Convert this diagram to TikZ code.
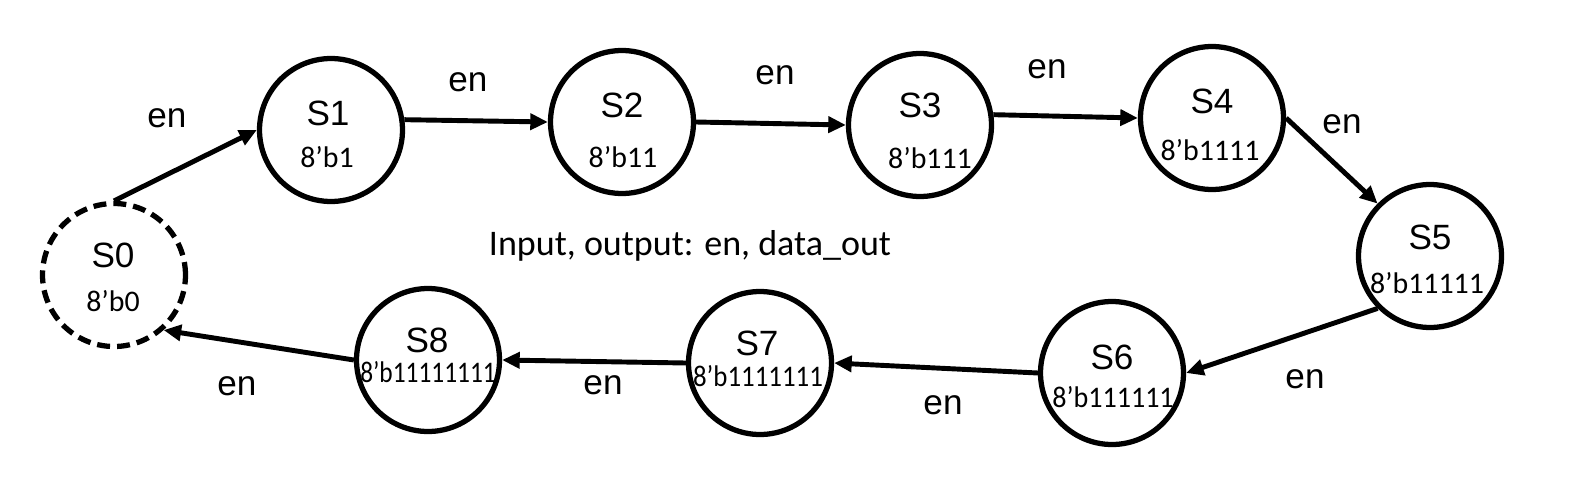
\documentclass[tikz,border=0pt]{standalone}
\usepackage{fontspec}
\setmainfont{Liberation Sans}
\newfontfamily\calfont{Carlito}
\usetikzlibrary{arrows.meta}

\tikzset{
  state/.style={circle, draw, line width=3pt, minimum size=2.86cm, inner sep=0pt},
  start/.style={state, dash pattern=on 0.26cm off 0.14cm},
  trans/.style={line width=2.8pt, -{Triangle[length=10pt,width=9pt]}},
  sname/.style={inner sep=0pt, font=\fontsize{20}{22}\selectfont},
  sval/.style={inner sep=0pt, font=\calfont\fontsize{17}{19}\selectfont},
  lbl/.style={inner sep=0pt, font=\fontsize{20}{24}\selectfont},
}

\begin{document}
\begin{tikzpicture}[x=0.02cm, y=-0.02cm]
    \useasboundingbox (0,0) rectangle (1579,487);

    % states
    \node[start] (S0) at (114,275) {};
    \node[state] (S1) at (331,130) {};
    \node[state] (S2) at (622,122) {};
    \node[state] (S3) at (920,125) {};
    \node[state] (S4) at (1212,118) {};
    \node[state] (S5) at (1430,256) {};
    \node[state] (S6) at (1112,373) {};
    \node[state] (S7) at (760,363) {};
    \node[state] (S8) at (428,360) {};

    % state names and values
    \node[sname] (S0n) at (113,255) {S0};   \node[sval] (S0v) at (113,301) {8’b0};
    \node[sname] (S1n) at (328,113) {S1};   \node[sval] (S1v) at (327,157) {8’b1};
    \node[sname] (S2n) at (622,105) {S2};   \node[sval] (S2v) at (623,157) {8’b11};
    \node[sname] (S3n) at (920,105) {S3};   \node[sval] (S3v) at (930,158) {8’b111};
    \node[sname] (S4n) at (1212,101) {S4};  \node[sval] (S4v) at (1210,150) {8’b1111};
    \node[sname] (S5n) at (1430,237) {S5};  \node[sval] (S5v) at (1427,283) {8’b11111};
    \node[sname] (S6n) at (1112,357) {S6};  \node[sval] (S6v) at (1113,397) {\scalebox{0.94}[1]{8’b111111}};
    \node[sname] (S7n) at (757,343) {S7};   \node[sval] (S7v) at (758,376) {\scalebox{0.9}[1]{8’b1111111}};
    \node[sname] (S8n) at (427,340) {S8};   \node[sval] (S8v) at (428,372) {\scalebox{0.85}[1]{8’b11111111}};

    % transitions
    \draw[trans] (S0.north) -- (S1.west);
    \draw[trans] (S1.8)     -- (S2.west);
    \draw[trans] (S2.east)  -- (S3.west);
    \draw[trans] (S3.8)     -- (S4.west);
    \draw[trans] (S4.east)  -- (S5.135);
    \draw[trans] (S5.225)   -- (S6.east);
    \draw[trans] (S6.west)  -- (S7.east);
    \draw[trans] (S7.west)  -- (S8.east);
    \draw[trans] (S8.west)  -- (S0.-48);

    % labels
    \node[lbl] (e01) at (167,118) {en};
    \node[lbl] (e12) at (468,82) {en};
    \node[lbl] (e23) at (775,75) {en};
    \node[lbl] (e34) at (1047,69) {en};
    \node[lbl] (e45) at (1342,124) {en};
    \node[lbl] (e56) at (1305,379) {en};
    \node[lbl] (e67) at (943,405) {en};
    \node[lbl] (e78) at (603,385) {en};
    \node[lbl] (e80) at (237,386) {en};

    \node[inner sep=0pt, anchor=base, font=\calfont\fontsize{20.5}{24}\selectfont] (io) at (690,255) {Input, output: en, data\_out};
\end{tikzpicture}
\end{document}
